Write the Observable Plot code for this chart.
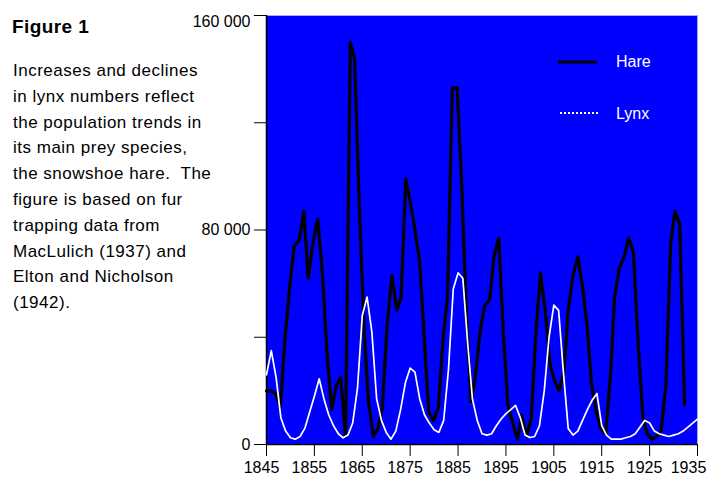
<!DOCTYPE html>
<html>
<head>
<meta charset="utf-8">
<script src="https://cdn.jsdelivr.net/npm/d3@7"></script>
<script src="https://cdn.jsdelivr.net/npm/@observablehq/plot@0.6"></script>
<style>
  html, body { margin: 0; padding: 0; background: #fff; overflow: hidden; }
  #wrap { position: relative; width: 707px; height: 479px; font-family: "Liberation Sans", Arial, sans-serif; color: #000; }
  #chart { position: absolute; left: 0; top: 0; }
  #side { position: absolute; left: 12px; top: 16px; }
  #side .fig { font-size: 19px; font-weight: bold; line-height: 22px; letter-spacing: 0.4px; margin: 0; }
  #side .txt { position: absolute; left: 1px; top: 42px; font-size: 17px; line-height: 25.8px; letter-spacing: 0.5px; white-space: nowrap; margin: 0; }
  #legend { position: absolute; left: 0; top: 0; pointer-events: none; }
</style>
</head>
<body>
<div id="wrap">
  <div id="chart"></div>
  <div id="side">
    <p class="fig">Figure 1</p>
    <p class="txt">Increases and declines<br>in lynx numbers reflect<br>the population trends in<br>its main prey species,<br>the snowshoe hare.&nbsp; The<br>figure is based on fur<br>trapping data from<br>MacLulich (1937) and<br>Elton and Nicholson<br>(1942).</p>
  </div>
  <svg id="legend" width="707" height="479" font-family="Liberation Sans, Arial, sans-serif" font-size="16">
    <line x1="558" y1="62" x2="597" y2="62" stroke="#000" stroke-width="3"/>
    <text x="616" y="67" fill="#fff">Hare</text>
    <line x1="560" y1="113" x2="600" y2="113" stroke="#fff" stroke-width="2" stroke-dasharray="2,2"/>
    <text x="616" y="119" fill="#fff">Lynx</text>
  </svg>
</div>
<script>
// Hare: year positions as read on the labelled axis, values in thousands
const hareYears = [
  1845.0,1846.0,1846.9,1847.9,1848.9,1849.9,1850.8,1851.8,1852.8,1853.7,
  1854.7,1855.7,1856.6,1857.6,1858.6,1859.6,1860.5,1861.5,1862.5,1863.4,
  1864.4,1865.4,1866.3,1867.3,1868.3,1869.2,1870.2,1871.2,1872.2,1873.1,
  1874.1,1875.1,1876.0,1877.0,1878.0,1878.9,1879.9,1880.9,1881.9,1882.8,
  1883.8,1884.8,1885.7,1886.7,1887.7,1888.6,1889.6,1890.6,1891.6,1892.5,
  1893.5,1894.5,1895.4,1896.4,1897.4,1898.3,1899.3,1900.3,1901.2,1902.2,
  1903.2,1904.2,1905.1,1906.1,1907.1,1908.0,1909.0,1910.0,1910.9,1911.9,
  1912.9,1913.9,1914.8,1915.8,1916.8,1917.7,1918.7,1919.7,1920.6,1921.6,
  1922.6,1923.6,1924.5,1925.5,1926.5,1927.4,1928.4,1929.4,1930.3,1931.3,
  1932.3
];
const hareValues = [
  20,20,19,14,40,60,74,76,87,62,
  75,84,66,35,13,22,25,3,150,144,
  88,42,16,3,6,14,45,63,50,55,
  99,90,80,68,38,12,9,14,40,55,
  133,133,100,50,16,25,42,52,54,70,
  77,40,15,8,2,11,3,10,40,64,
  50,30,24,20,27,50,63,70,60,45,
  22,12,6,4,25,55,66,70,77,72,
  38,10,4,2,3,5,22,75,87,82,
  15
];
// Lynx: values in thousands
const lynxYears = [
  1845,1846,1847,1848,1849,1850,1851,1852,1853,1854,
  1855,1856,1857,1858,1859,1860,1861,1862,1863,1864,
  1865,1866,1867,1868,1869,1870,1871,1872,1873,1874,
  1875,1876,1877,1878,1879,1880,1881,1882,1883,1884,
  1885,1886,1887,1888,1889,1890,1891,1892,1893,1894,
  1895,1896,1897,1898,1899,1900,1901,1902,1903,1904,
  1905,1906,1907,1908,1909,1910,1911,1912,1913,1914,
  1915,1916,1917,1918,1919,1920,1921,1922,1923,1924,
  1925,1926,1927,1928,1929,1930,1931,1932,1933,1934,
  1935
];
const lynxValues = [
  26,35,25,10,5,2.5,2,3,6,12,
  18,24.5,17,11,7,4,2.5,3.5,8,21,
  48,55,42,17,9,4.5,2,5,13,23,
  28.5,27,17,11,8,5.5,4.5,9,28,58,
  64,62,38,17,9,4,3.5,4,7,9.5,
  11.5,13,14.6,10,3.5,2.6,3,7,20,40,
  52,50,27,6,3.5,5,9,13,16.5,19,
  7,3.5,2,2,2,2.5,3,4,6.5,9,
  8,5,4,3.5,3,3.5,4,5,6.5,8,
  9.5
];
const xTicks = [1845,1855,1865,1875,1885,1895,1905,1915,1925,1935];
const yTicks = [0,40000,80000,120000,160000];
const yTickLabels = ["0","","80 000","","160 000"];

const hare = hareYears.map((y, i) => ({year: y, value: hareValues[i] * 1000}));
const lynx = lynxYears.map((y, i) => ({year: y, value: lynxValues[i] * 1000}));

const lastX = xTicks[xTicks.length - 1];
const topY = yTicks[yTicks.length - 1];
const font = "Liberation Sans, Arial, sans-serif";

const chart = Plot.plot({
  width: 707,
  height: 479,
  marginLeft: 266,
  marginRight: 10,
  marginTop: 15,
  marginBottom: 35,
  style: {fontFamily: font, fontSize: "16px", color: "#000", background: "transparent", overflow: "visible"},
  x: {domain: [xTicks[0], lastX]},
  y: {domain: [yTicks[0], topY]},
  marks: [
    Plot.frame({fill: "#0000ff", stroke: "#a8a8ff"}),
    // tick marks for all years
    Plot.axisX({ticks: xTicks, tickFormat: () => "", tickSize: 12, label: null, stroke: "#000"}),
    // year labels (sit slightly left of their ticks, as in the original)
    Plot.axisX({ticks: xTicks.slice(0, -1), tickFormat: d => String(d), tickSize: 0, tickPadding: 17, dx: -5, label: null}),
    Plot.axisX({ticks: [lastX], tickFormat: d => String(d), tickSize: 0, tickPadding: 17, dx: -9, label: null}),
    // y tick marks and labels
    Plot.axisY({ticks: yTicks, tickFormat: d => d === topY ? "" : yTickLabels[yTicks.indexOf(d)], tickSize: 12, tickPadding: 4, label: null, stroke: "#000"}),
    Plot.axisY({ticks: [topY], tickFormat: d => yTickLabels[yTicks.indexOf(d)], tickSize: 0, tickPadding: 16, dy: 6, label: null}),
    Plot.ruleX([xTicks[0]], {stroke: "#000", strokeWidth: 1.5}),
    Plot.ruleY([yTicks[0]], {stroke: "#000", strokeWidth: 1.5}),
    Plot.line(hare, {x: "year", y: "value", stroke: "#000", strokeWidth: 3.2}),
    Plot.line(lynx, {x: "year", y: "value", stroke: "#fff", strokeWidth: 1.7})
  ]
});
document.getElementById("chart").appendChild(chart);
</script>
</body>
</html>
